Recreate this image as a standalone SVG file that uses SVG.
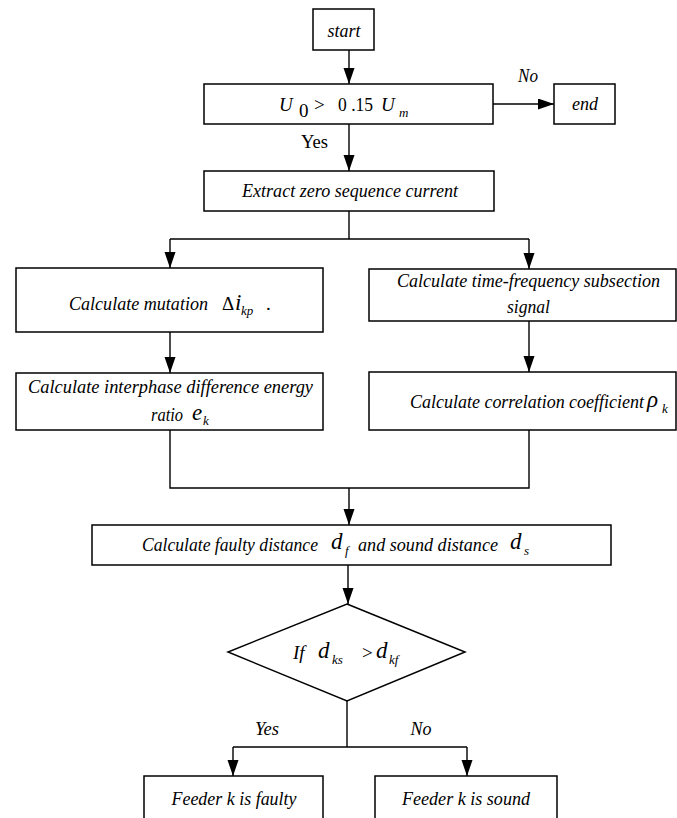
<svg xmlns="http://www.w3.org/2000/svg" width="677" height="818" viewBox="0 0 677 818">
<style>
.box{fill:#fff;stroke:#000;stroke-width:1.5}
.ln{fill:none;stroke:#000;stroke-width:1.4}
.t{font-family:"Liberation Serif","Times New Roman",serif;font-style:italic;font-size:19px;fill:#000}
.u{font-family:"Liberation Serif","Times New Roman",serif;font-size:19px;fill:#000}
.m{font-family:"Liberation Serif","Times New Roman",serif;font-style:italic;font-size:23px;fill:#000}
.s{font-family:"Liberation Serif","Times New Roman",serif;font-style:italic;font-size:13px;fill:#000}
</style>
<defs>
<marker id="ah" markerUnits="userSpaceOnUse" markerWidth="16" markerHeight="12" refX="16" refY="5.5" orient="auto">
<path d="M0,0 L16,5.5 L0,11 z" fill="#000"/>
</marker>
</defs>
<rect width="677" height="818" fill="#fff"/>
<g id="connectors">
<line class="ln" x1="349" y1="50" x2="349" y2="84" marker-end="url(#ah)"/>
<line class="ln" x1="493" y1="104" x2="554" y2="104" marker-end="url(#ah)"/>
<line class="ln" x1="349" y1="124" x2="349" y2="171" marker-end="url(#ah)"/>
<polyline class="ln" points="349,211 349,239"/>
<line class="ln" x1="170" y1="239" x2="529" y2="239"/>
<line class="ln" x1="170" y1="239" x2="170" y2="268" marker-end="url(#ah)"/>
<line class="ln" x1="529" y1="239" x2="529" y2="269" marker-end="url(#ah)"/>
<line class="ln" x1="170" y1="332" x2="170" y2="373" marker-end="url(#ah)"/>
<line class="ln" x1="529" y1="321" x2="529" y2="372" marker-end="url(#ah)"/>
<polyline class="ln" points="170,430 170,488 529,488 529,430"/>
<line class="ln" x1="349" y1="488" x2="349" y2="525" marker-end="url(#ah)"/>
<line class="ln" x1="348" y1="565" x2="348" y2="604" marker-end="url(#ah)"/>
<line class="ln" x1="347" y1="701" x2="347" y2="747"/>
<line class="ln" x1="233" y1="747" x2="467" y2="747"/>
<line class="ln" x1="233" y1="747" x2="233" y2="776" marker-end="url(#ah)"/>
<line class="ln" x1="467" y1="747" x2="467" y2="776" marker-end="url(#ah)"/>
<text class="t" x="528" y="82" text-anchor="middle" textLength="20" lengthAdjust="spacingAndGlyphs">No</text>
<text class="u" x="314.5" y="148" text-anchor="middle" textLength="27" lengthAdjust="spacingAndGlyphs">Yes</text>
<text class="t" x="267" y="735" text-anchor="middle" textLength="24" lengthAdjust="spacingAndGlyphs">Yes</text>
<text class="t" x="421" y="735" text-anchor="middle" textLength="21" lengthAdjust="spacingAndGlyphs">No</text>
</g>
<g id="start">
<rect class="box" x="313" y="9" width="61" height="41"/>
<text class="t" x="344" y="37" text-anchor="middle" textLength="33" lengthAdjust="spacingAndGlyphs">start</text>
</g>
<g id="cond">
<rect class="box" x="204" y="84" width="289" height="40"/>
<text class="t" x="279" y="111" font-size="19">U</text>
<text class="u" x="299" y="117" font-size="13">0</text>
<text class="u" x="314" y="111" font-size="19">&gt;</text>
<text class="u" x="338" y="111" font-size="19" textLength="35" lengthAdjust="spacingAndGlyphs">0 .15</text>
<text class="t" x="381" y="111" font-size="19">U</text>
<text class="s" x="399" y="117">m</text>
</g>
<g id="end">
<rect class="box" x="554" y="84" width="61" height="40"/>
<text class="t" x="585" y="110" text-anchor="middle" textLength="26" lengthAdjust="spacingAndGlyphs">end</text>
</g>
<g id="extract">
<rect class="box" x="204" y="171" width="290" height="40"/>
<text class="t" x="242" y="197" textLength="216" lengthAdjust="spacingAndGlyphs">Extract zero sequence current</text>
</g>
<g id="mutation">
<rect class="box" x="16" y="268" width="307" height="64"/>
<text class="t" x="69" y="310" textLength="139" lengthAdjust="spacingAndGlyphs">Calculate  mutation</text>
<text class="u" x="222" y="310" font-size="22">Δ</text>
<text class="m" x="235" y="310" font-size="22">i</text>
<text class="s" x="241" y="315">kp</text>
<text class="u" x="266" y="310">.</text>
</g>
<g id="timefreq">
<rect class="box" x="369" y="269" width="307" height="52"/>
<text class="t" x="397" y="287" textLength="263" lengthAdjust="spacingAndGlyphs">Calculate time-frequency subsection</text>
<text class="t" x="507" y="313" textLength="43" lengthAdjust="spacingAndGlyphs">signal</text>
</g>
<g id="interphase">
<rect class="box" x="16" y="373" width="307" height="57"/>
<text class="t" x="28" y="393" textLength="285" lengthAdjust="spacingAndGlyphs">Calculate  interphase difference energy</text>
<text class="t" x="151" y="421" textLength="32" lengthAdjust="spacingAndGlyphs">ratio</text>
<text class="m" x="192" y="420" font-size="22">e</text>
<text class="s" x="203" y="425">k</text>
</g>
<g id="correlation">
<rect class="box" x="369" y="372" width="307" height="58"/>
<text class="t" x="410" y="408" textLength="234" lengthAdjust="spacingAndGlyphs">Calculate correlation coefficient</text>
<text class="m" x="647" y="407" font-size="22">ρ</text>
<text class="s" x="662" y="413">k</text>
</g>
<g id="distance">
<rect class="box" x="92" y="525" width="519" height="40"/>
<text class="t" x="142" y="551" textLength="176" lengthAdjust="spacingAndGlyphs">Calculate faulty distance</text>
<text class="m" x="331" y="549">d</text>
<text class="s" x="345" y="555">f</text>
<text class="t" x="358" y="551" textLength="140" lengthAdjust="spacingAndGlyphs">and sound distance</text>
<text class="m" x="510" y="549">d</text>
<text class="s" x="524" y="555">s</text>
</g>
<g id="decision">
<polygon class="box" points="347,604 465,652 347,701 228,652"/>
<text class="t" x="293" y="659">If</text>
<text class="m" x="318" y="658">d</text>
<text class="s" x="332" y="664">ks</text>
<text class="u" x="362" y="659">&gt;</text>
<text class="m" x="376" y="658">d</text>
<text class="s" x="389" y="664">kf</text>
</g>
<g id="faulty">
<rect class="box" x="144" y="776" width="179" height="60"/>
<text class="t" x="234" y="805" text-anchor="middle" textLength="125" lengthAdjust="spacingAndGlyphs">Feeder k is faulty</text>
</g>
<g id="sound">
<rect class="box" x="375" y="776" width="182" height="60"/>
<text class="t" x="466" y="805" text-anchor="middle" textLength="128" lengthAdjust="spacingAndGlyphs">Feeder k is sound</text>
</g>
</svg>
